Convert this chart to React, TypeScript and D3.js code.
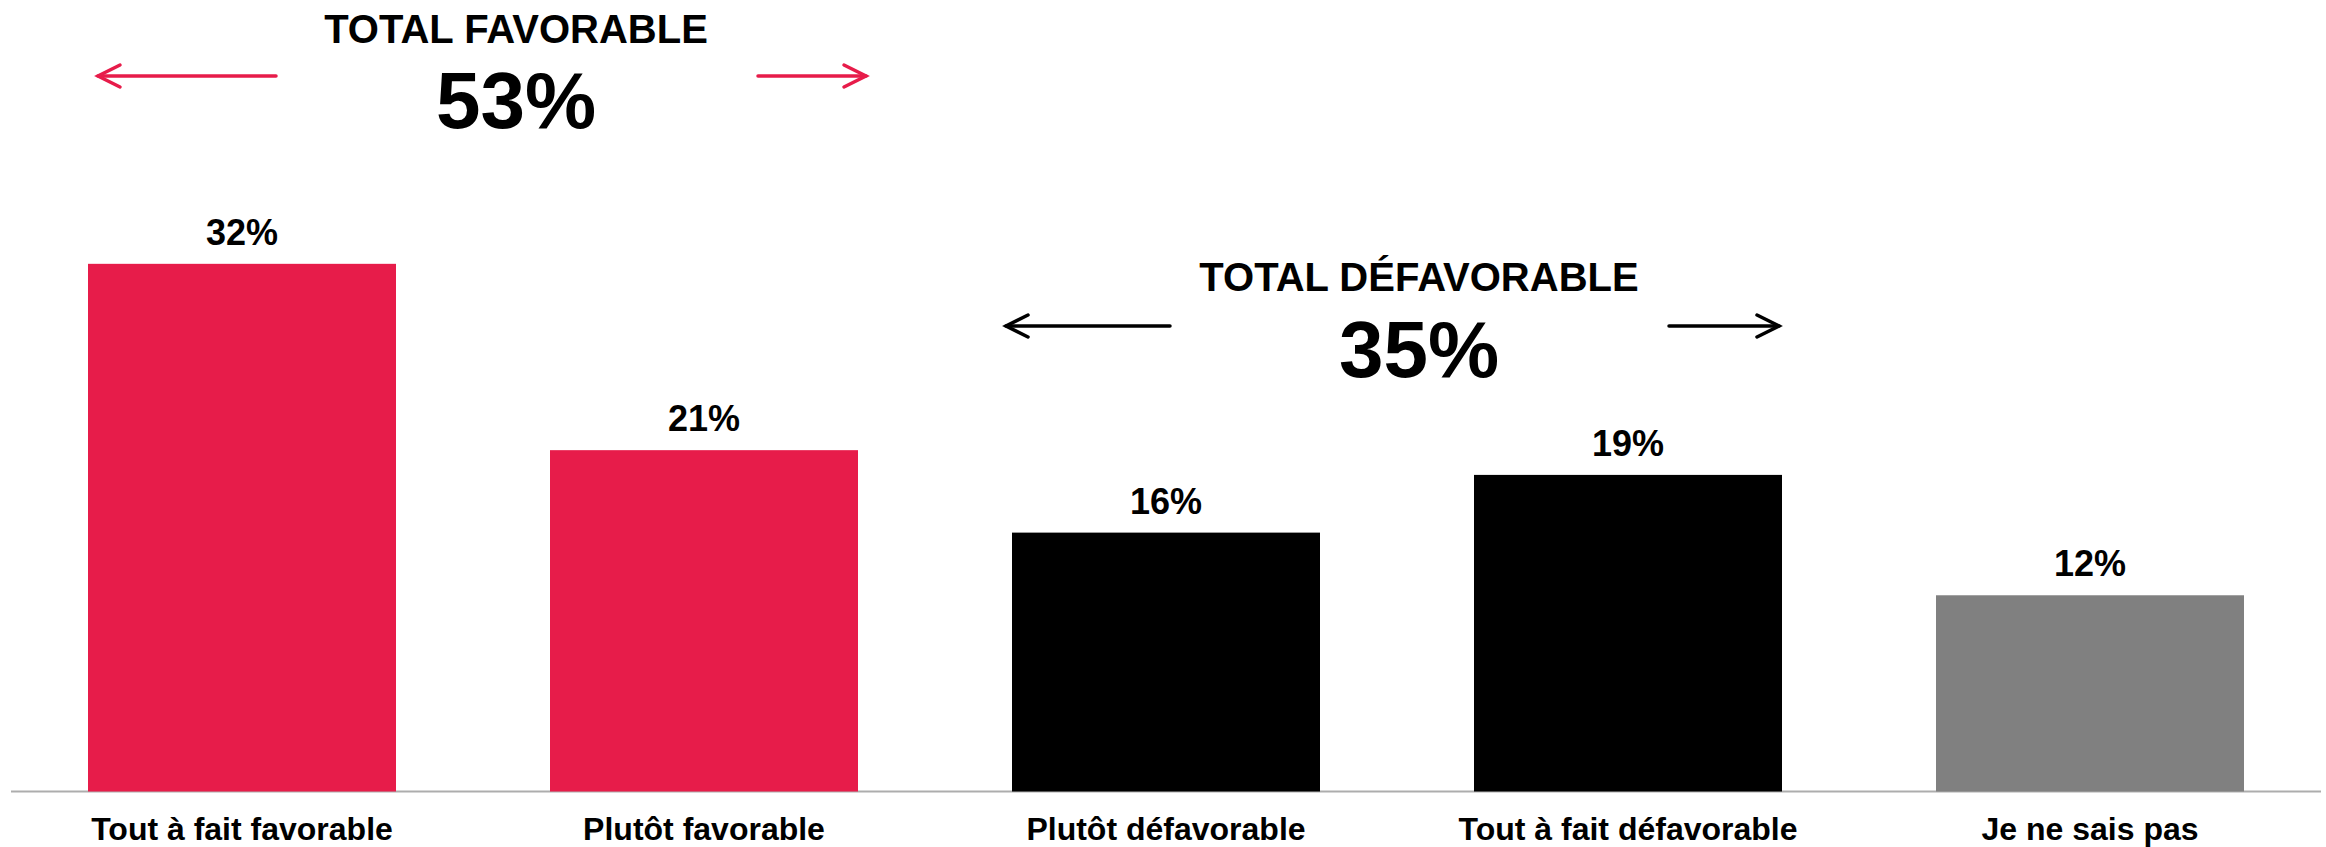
import React from "react";
import { scaleBand, scaleLinear } from "d3";

const categories = [
  "Tout à fait favorable",
  "Plutôt favorable",
  "Plutôt défavorable",
  "Tout à fait défavorable",
  "Je ne sais pas",
];
// unrounded shares (bar heights) and the rounded labels shown above the bars
const values = [32.0, 20.7, 15.7, 19.2, 11.9];
const valueLabels = ["32%", "21%", "16%", "19%", "12%"];
const barColors = ["#E71C4A", "#E71C4A", "#000000", "#000000", "#808080"];

const groupTitles = ["TOTAL FAVORABLE", "TOTAL DÉFAVORABLE"];
const groupTotals = ["53%", "35%"];
const groupColors = ["#E71C4A", "#000000"];

const W = 2326;
const H = 847;
const baseY = 791.5;
const FONT = "'Liberation Sans', Arial, sans-serif";

// annotation layout: title center, baselines, arrow y, arrow segments
const groupLayout = [
  { cx: 516, titleY: 43, totalY: 128, arrowY: 76, left: [98, 276], right: [758, 866] },
  { cx: 1419, titleY: 291, totalY: 377, arrowY: 326, left: [1006, 1170], right: [1669, 1779] },
];

function Arrow({ x1, x2, y, color, dir }) {
  // dir: -1 points left, 1 points right
  const tip = dir < 0 ? x1 : x2;
  const head = 22;
  return (
    <g stroke={color} strokeWidth={3.5} fill="none" strokeLinecap="round">
      <line x1={x1} x2={x2} y1={y} y2={y} />
      <polyline
        points={`${tip - dir * head},${y - 11} ${tip},${y} ${tip - dir * head},${y + 11}`}
        strokeLinejoin="miter"
      />
    </g>
  );
}

export default function App() {
  const x = scaleBand()
    .domain(categories)
    .range([11, 2321])
    .paddingInner(1 / 3)
    .paddingOuter(1 / 6);

  const y = scaleLinear().domain([0, 48]).range([baseY, 0]);

  return (
    <svg
      width={W}
      height={H}
      style={{ position: "absolute", left: 0, top: 0, background: "#fff" }}
      fontFamily={FONT}
      fontWeight="bold"
    >
      {/* baseline */}
      <line x1={11} x2={2321} y1={baseY} y2={baseY} stroke="#ADADAD" strokeWidth={2} />

      {/* bars */}
      {categories.map((c, i) => (
        <rect
          key={c}
          x={x(c)}
          y={y(values[i])}
          width={x.bandwidth()}
          height={baseY - y(values[i])}
          fill={barColors[i]}
        />
      ))}

      {/* value labels */}
      {categories.map((c, i) => (
        <text
          key={c + "-v"}
          x={x(c) + x.bandwidth() / 2}
          y={y(values[i]) - 19}
          textAnchor="middle"
          fontSize={36}
          fill="#000"
        >
          {valueLabels[i]}
        </text>
      ))}

      {/* category labels */}
      {categories.map((c) => (
        <text
          key={c + "-l"}
          x={x(c) + x.bandwidth() / 2}
          y={840}
          textAnchor="middle"
          fontSize={32}
          fill="#000"
        >
          {c}
        </text>
      ))}

      {/* group totals */}
      {groupTitles.map((t, i) => {
        const g = groupLayout[i];
        return (
          <g key={t}>
            <text x={g.cx} y={g.titleY} textAnchor="middle" fontSize={40} fill="#000">
              {t}
            </text>
            <text x={g.cx} y={g.totalY} textAnchor="middle" fontSize={80} fill="#000">
              {groupTotals[i]}
            </text>
            <Arrow x1={g.left[0]} x2={g.left[1]} y={g.arrowY} color={groupColors[i]} dir={-1} />
            <Arrow x1={g.right[0]} x2={g.right[1]} y={g.arrowY} color={groupColors[i]} dir={1} />
          </g>
        );
      })}
    </svg>
  );
}
